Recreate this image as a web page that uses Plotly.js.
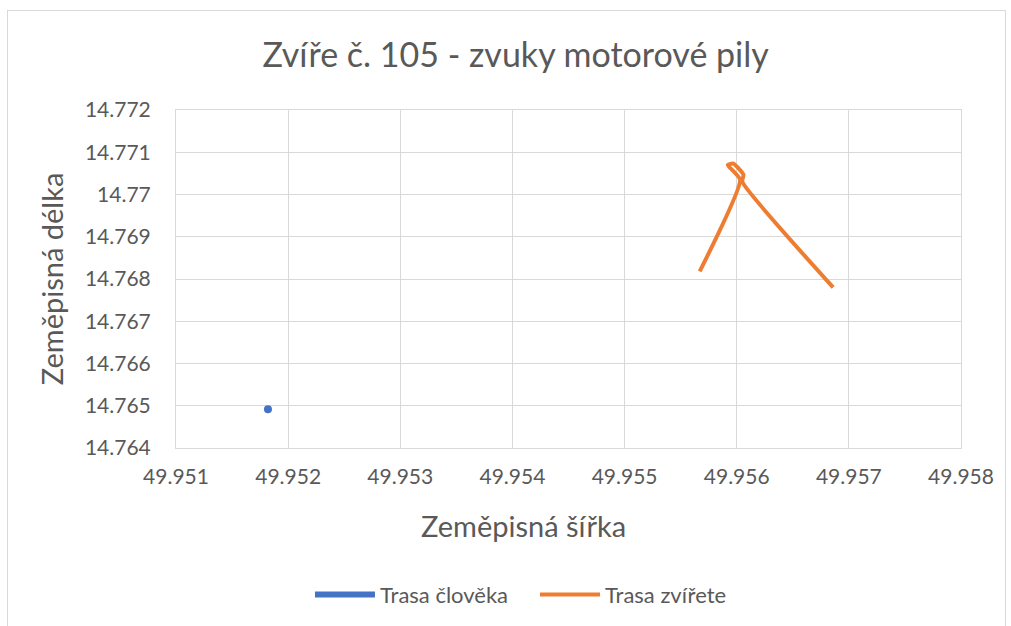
<!DOCTYPE html>
<html>
<head>
<meta charset="utf-8">
<script src="https://cdn.plot.ly/plotly-3.0.1.min.js"></script>
<style>
html,body{margin:0;padding:0;background:#fff;}
#chart{width:1011px;height:626px;position:absolute;left:0;top:0;}
#frame{position:absolute;left:7px;top:10px;width:997px;height:630px;border:1px solid #d9d9d9;pointer-events:none;}
</style>
</head>
<body>
<div id="chart"></div>
<div id="frame"></div>
<script>
const humanLat = [49.95182];
const humanLon = [14.76492];
const animalLat = [49.95567, 49.95603, 49.95592, 49.95597, 49.95606, 49.95605, 49.95686];
const animalLon = [14.76818, 14.77035, 14.77070, 14.77073, 14.77047, 14.77030, 14.76780];
const xTicks = [49.951, 49.952, 49.953, 49.954, 49.955, 49.956, 49.957, 49.958];
const xTickText = ["49.951", "49.952", "49.953", "49.954", "49.955", "49.956", "49.957", "49.958"];
const yTicks = [14.764, 14.765, 14.766, 14.767, 14.768, 14.769, 14.770, 14.771, 14.772];
const yTickText = ["14.764", "14.765", "14.766", "14.767", "14.768", "14.769", "14.77", "14.771", "14.772"];

const FONT = "Lato, 'Open Sans', sans-serif";
const GREY = "#595959";

const traces = [
  {x: humanLat, y: humanLon, mode: "lines", name: "Trasa člověka",
   line: {color: "#4472c4", width: 6}, hoverinfo: "x+y"},
  {x: humanLat, y: humanLon, mode: "markers", showlegend: false,
   marker: {color: "#4472c4", size: 8}},
  {x: animalLat, y: animalLon, mode: "lines", name: "Trasa zvířete",
   line: {color: "#ed7d31", width: 4, shape: "spline", smoothing: 0.5}}
];

const layout = {
  width: 1011, height: 626,
  margin: {l: 176, r: 50, t: 110, b: 177},
  paper_bgcolor: "#fff", plot_bgcolor: "#fff",
  font: {family: FONT, color: GREY},
  title: {text: "Zvíře č. 105 - zvuky motorové pily", font: {size: 34, color: GREY, family: FONT},
          x: 0.51, xanchor: "center", y: 0.912, yanchor: "middle"},
  xaxis: {range: [49.951, 49.958], tickvals: xTicks, ticktext: xTickText,
          showgrid: true, gridcolor: "#d9d9d9", gridwidth: 1,
          showline: true, linecolor: "#d9d9d9", mirror: true, zeroline: false,
          ticks: "", tickfont: {size: 21, color: GREY}, ticklabelstandoff: 10},
  yaxis: {range: [14.764, 14.772], tickvals: yTicks, ticktext: yTickText,
          showgrid: true, gridcolor: "#d9d9d9", gridwidth: 1,
          showline: true, linecolor: "#d9d9d9", mirror: true, zeroline: false,
          ticks: "", tickfont: {size: 21, color: GREY}, ticklabelstandoff: 20,
          title: {text: "Zeměpisná délka", font: {size: 29, color: GREY}, standoff: 12}},
  annotations: [
    {text: "Zeměpisná šířka", xref: "paper", yref: "paper", x: 0.4433, y: -0.23,
     xanchor: "center", yanchor: "middle", showarrow: false,
     font: {size: 29, color: GREY, family: FONT}}
  ],
  legend: {orientation: "h", x: 0.4573, xanchor: "center", y: -0.43, yanchor: "middle",
           font: {size: 22, color: GREY}, itemwidth: 60,
           entrywidth: 150, entrywidthmode: "pixels"},
  showlegend: true
};

Plotly.newPlot("chart", traces, layout, {displayModeBar: false, staticPlot: true});
</script>
</body>
</html>
